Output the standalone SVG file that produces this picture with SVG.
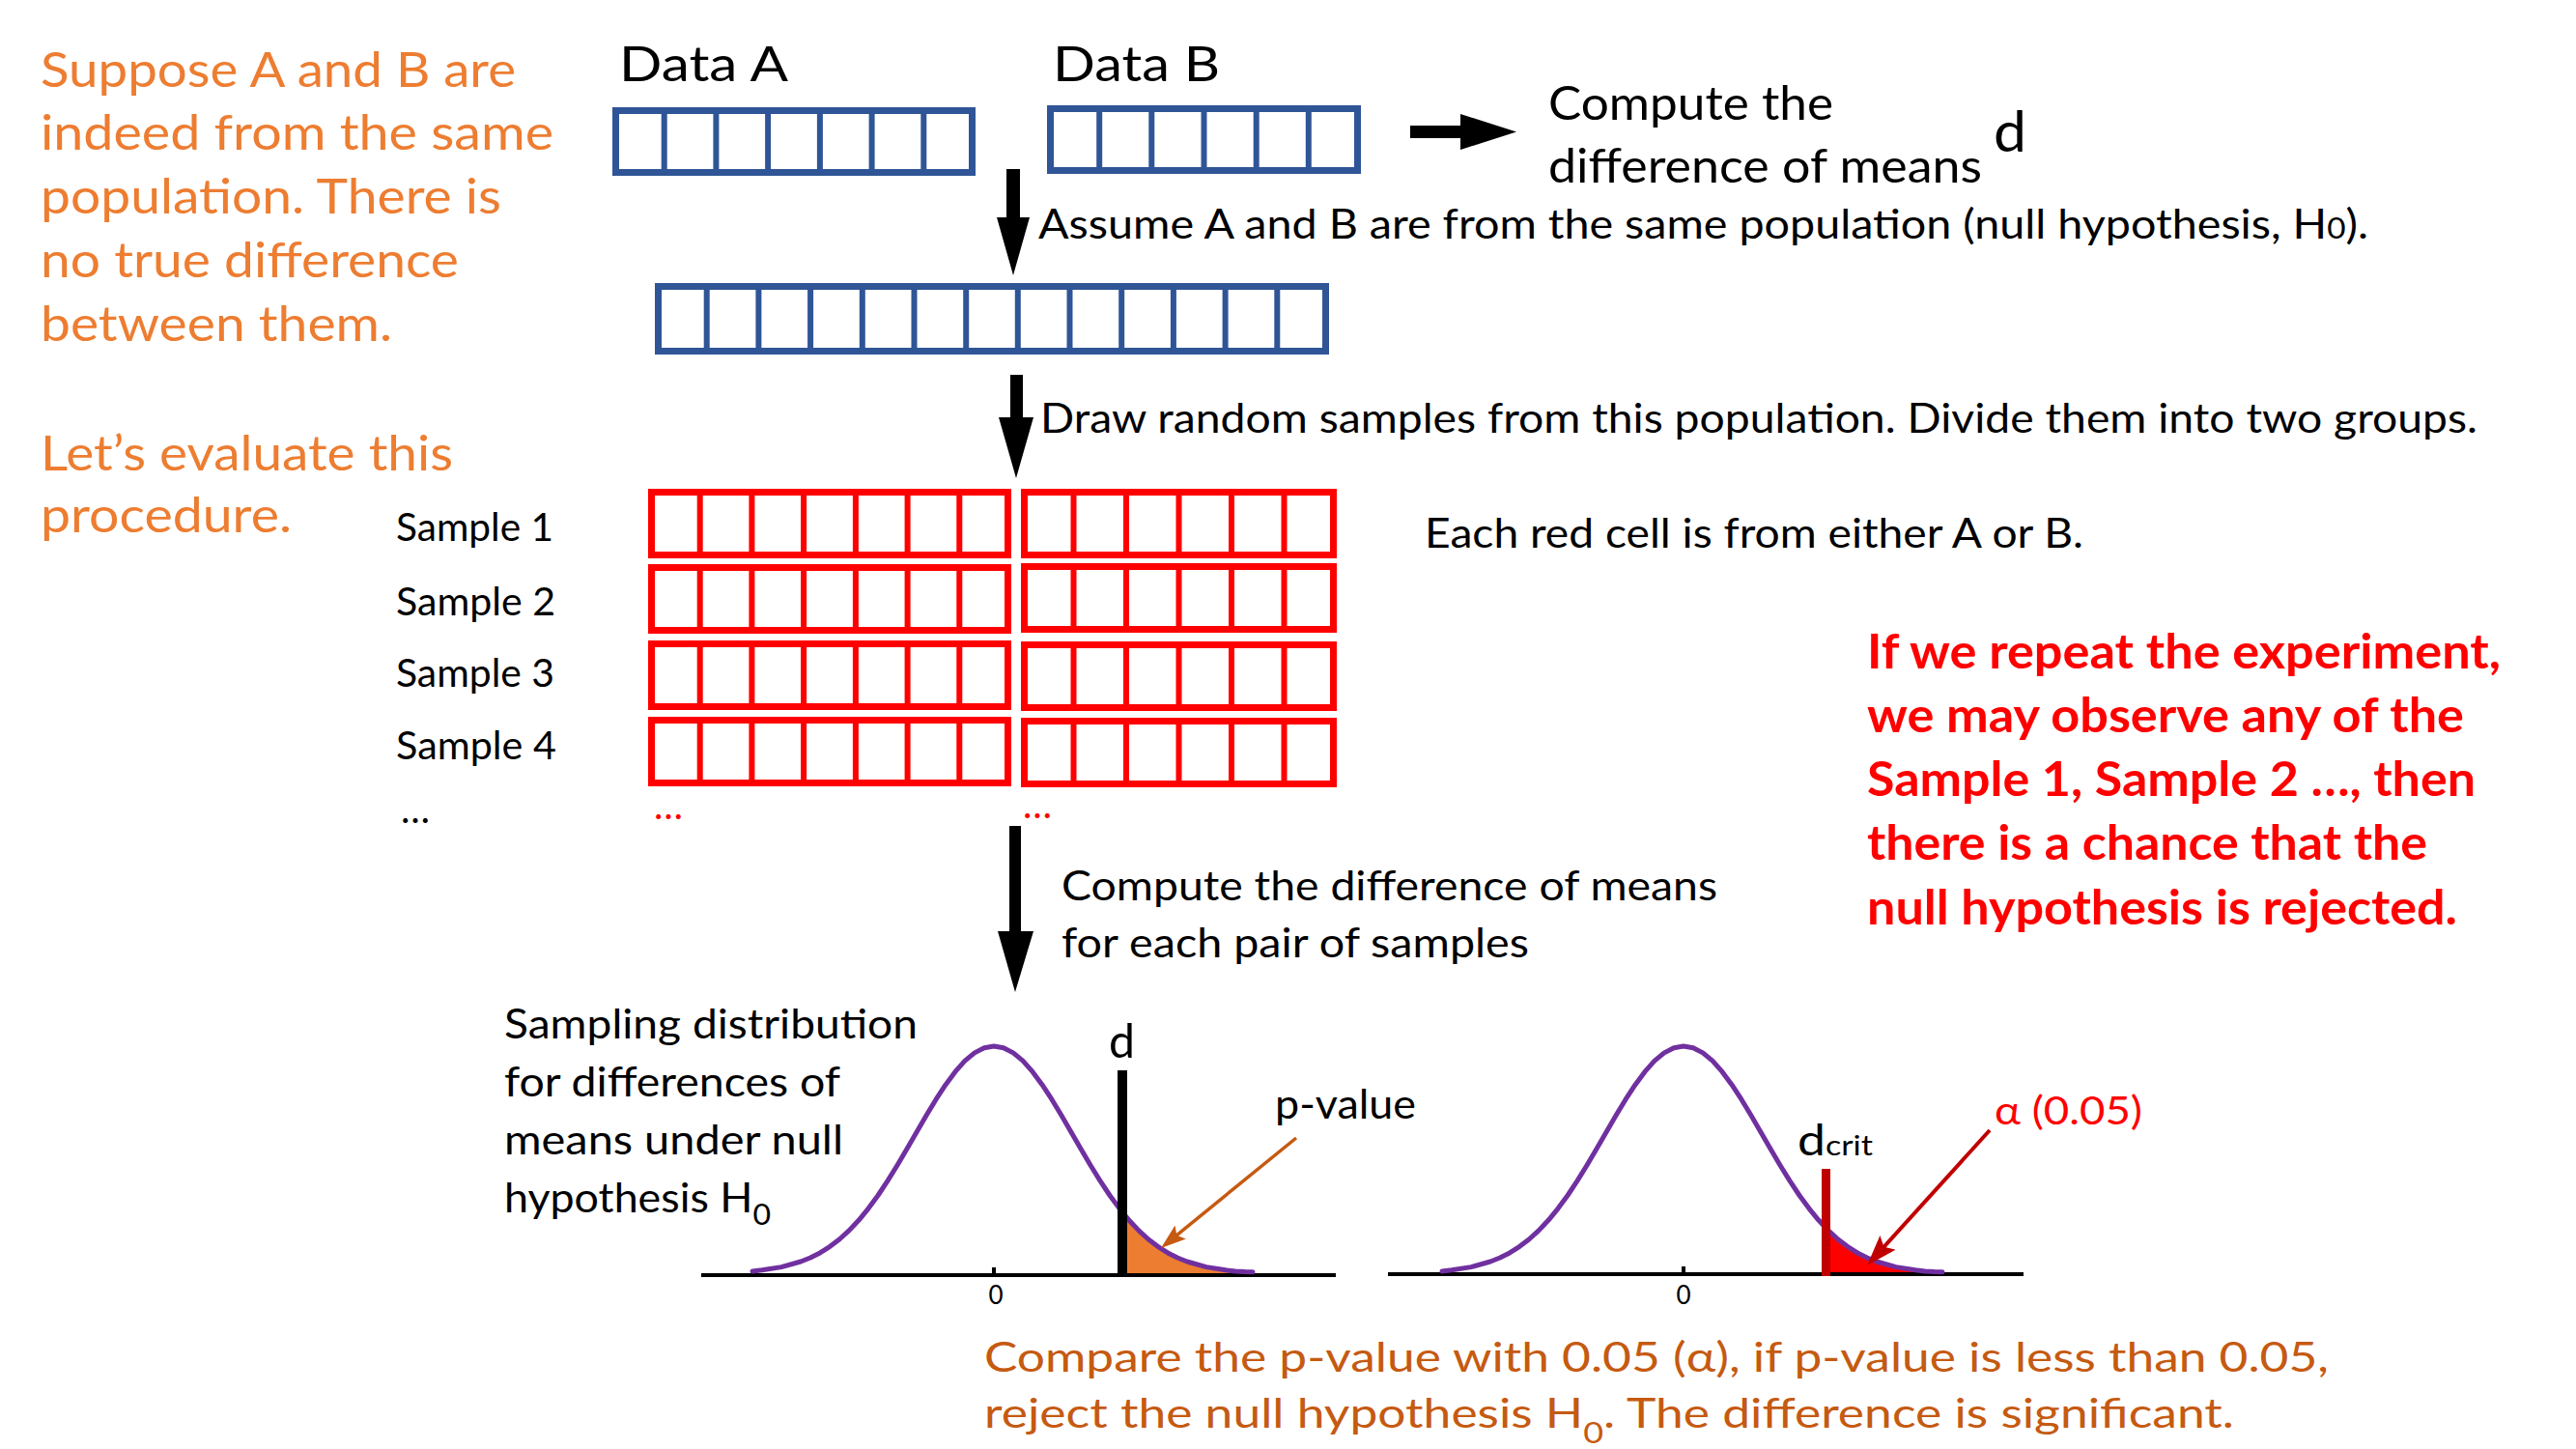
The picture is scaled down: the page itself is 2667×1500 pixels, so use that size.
<svg xmlns="http://www.w3.org/2000/svg" width="2667" height="1500" viewBox="0 0 2667 1500">
<style>
.t{font-family:Lato,'Open Sans','DejaVu Sans',sans-serif;fill:#000}
.or{fill:#ED7D31;font-size:50px}
.dor{fill:#C55A11;font-size:43px}
.rd{fill:#FF0000;font-size:49px;font-weight:bold}
.m{font-size:42px}
.bo{fill:none;stroke:#2F5597;stroke-width:7}
.bd{fill:none;stroke:#2F5597;stroke-width:6}
.ro{fill:none;stroke:#FF0000;stroke-width:7}
.rdv{fill:none;stroke:#FF0000;stroke-width:6}
.arr{fill:#000}
.curve{fill:none;stroke:#7030A0;stroke-width:5;stroke-linejoin:round;stroke-linecap:round}
.axis{stroke:#000;stroke-width:4}
</style>
<defs>
<path id="bell" d="M-250,1315.9 L-240,1314.8 L-220,1311.6 L-200,1306 L-190,1302 L-180,1296.9 L-170,1290.6 L-160,1283 L-150,1273.9 L-140,1263.3 L-130,1251.1 L-120,1237.5 L-110,1222.4 L-100,1206.3 L-90,1189.3 L-80,1172 L-70,1154.8 L-60,1138.2 L-50,1122.9 L-40,1109.4 L-30,1098.2 L-20,1089.9 L-10,1084.7 L0,1083 L10,1084.7 L20,1089.9 L30,1098.2 L40,1109.4 L50,1122.9 L60,1138.2 L70,1154.8 L80,1172 L90,1189.3 L100,1206.3 L110,1222.4 L120,1237.5 L130,1251.1 L140,1263.3 L150,1273.9 L160,1283 L170,1290.6 L180,1296.9 L190,1302 L200,1306 L220,1311.6 L240,1314.8 L250,1315.9 L260,1316.5 L268,1316.8"/>
<marker id="hOr" markerUnits="userSpaceOnUse" markerWidth="30" markerHeight="24" refX="21" refY="9" orient="auto"><path d="M0,0 L26,9 L0,18 L5,9 z" fill="#C55A11"/></marker>
<marker id="hRd" markerUnits="userSpaceOnUse" markerWidth="36" markerHeight="28" refX="27" refY="11" orient="auto"><path d="M0,0 L32,11 L0,22 L6,11 z" fill="#C00000"/></marker>
</defs>

<g id="intro-text">
<text class="t or" x="42" y="90" textLength="492" lengthAdjust="spacingAndGlyphs">Suppose A and B are</text>
<text class="t or" x="42" y="155" textLength="531" lengthAdjust="spacingAndGlyphs">indeed from the same</text>
<text class="t or" x="42" y="221" textLength="477" lengthAdjust="spacingAndGlyphs">population. There is</text>
<text class="t or" x="42" y="287" textLength="433" lengthAdjust="spacingAndGlyphs">no true difference</text>
<text class="t or" x="42" y="353" textLength="364" lengthAdjust="spacingAndGlyphs">between them.</text>
<text class="t or" x="42" y="487" textLength="427" lengthAdjust="spacingAndGlyphs">Let’s evaluate this</text>
<text class="t or" x="42" y="551" textLength="260" lengthAdjust="spacingAndGlyphs">procedure.</text>
</g>

<g id="data-a">
<text class="t" x="641" y="84" font-size="50" textLength="175" lengthAdjust="spacingAndGlyphs">Data A</text>
<rect class="bo" x="637.5" y="114.5" width="369" height="64"/>
<path class="bd" d="M687.7,114V179M741.4,114V179M795.1,114V179M848.9,114V179M902.6,114V179M956.3,114V179"/>
</g>

<g id="data-b">
<text class="t" x="1090" y="84" font-size="50" textLength="173" lengthAdjust="spacingAndGlyphs">Data B</text>
<rect class="bo" x="1087.5" y="112.5" width="318" height="64"/>
<path class="bd" d="M1138.2,112V177M1192.3,112V177M1246.5,112V177M1300.7,112V177M1354.8,112V177"/>
</g>

<g id="compute-d">
<text class="t" x="1603" y="124" font-size="48" textLength="295" lengthAdjust="spacingAndGlyphs">Compute the</text>
<text class="t" x="1603" y="189" font-size="48" textLength="449" lengthAdjust="spacingAndGlyphs">difference of means</text>
<text class="t" x="2064" y="157" font-size="58" textLength="34" lengthAdjust="spacingAndGlyphs">d</text>
</g>

<g id="population">
<rect class="bo" x="681.5" y="296.5" width="691" height="67"/>
<path class="bd" d="M731.7,296V364M785.4,296V364M839.1,296V364M892.8,296V364M946.5,296V364M1000.2,296V364M1053.8,296V364M1107.5,296V364M1161.2,296V364M1214.9,296V364M1268.6,296V364M1322.3,296V364"/>
</g>

<g id="step-labels">
<text class="t m" x="1075" y="247" textLength="1377" lengthAdjust="spacingAndGlyphs">Assume A and B are from the same population (null hypothesis, H<tspan font-size="30">0</tspan>).</text>
<text class="t m" x="1077" y="448" textLength="1488" lengthAdjust="spacingAndGlyphs">Draw random samples from this population. Divide them into two groups.</text>
<text class="t m" x="1475" y="567" textLength="682" lengthAdjust="spacingAndGlyphs">Each red cell is from either A or B.</text>
<text class="t m" x="1099" y="932" textLength="679" lengthAdjust="spacingAndGlyphs">Compute the difference of means</text>
<text class="t m" x="1099" y="991" textLength="484" lengthAdjust="spacingAndGlyphs">for each pair of samples</text>
</g>

<g id="samples">
<text class="t" x="410" y="560" font-size="40" textLength="163" lengthAdjust="spacingAndGlyphs">Sample 1</text>
<text class="t" x="410" y="637" font-size="40" textLength="165" lengthAdjust="spacingAndGlyphs">Sample 2</text>
<text class="t" x="410" y="711" font-size="40" textLength="164" lengthAdjust="spacingAndGlyphs">Sample 3</text>
<text class="t" x="410" y="786" font-size="40" textLength="166" lengthAdjust="spacingAndGlyphs">Sample 4</text>
<text class="t" x="415" y="852" font-size="40">…</text>
<text class="t" x="677" y="848" font-size="40" style="fill:#FF0000">…</text>
<text class="t" x="1059" y="847" font-size="40" style="fill:#FF0000">…</text>
<rect class="ro" x="674.5" y="509.5" width="369" height="65"/>
<path class="rdv" d="M724.7,509V575M778.4,509V575M832.1,509V575M885.9,509V575M939.6,509V575M993.3,509V575"/>
<rect class="ro" x="1060.5" y="509.5" width="320" height="65"/>
<path class="rdv" d="M1111.5,509V575M1166,509V575M1220.5,509V575M1275,509V575M1329.5,509V575"/>
<rect class="ro" x="674.5" y="587.5" width="369" height="65"/>
<path class="rdv" d="M724.7,587V653M778.4,587V653M832.1,587V653M885.9,587V653M939.6,587V653M993.3,587V653"/>
<rect class="ro" x="1060.5" y="586.5" width="320" height="65"/>
<path class="rdv" d="M1111.5,586V652M1166,586V652M1220.5,586V652M1275,586V652M1329.5,586V652"/>
<rect class="ro" x="674.5" y="666.5" width="369" height="65"/>
<path class="rdv" d="M724.7,666V732M778.4,666V732M832.1,666V732M885.9,666V732M939.6,666V732M993.3,666V732"/>
<rect class="ro" x="1060.5" y="667.5" width="320" height="65"/>
<path class="rdv" d="M1111.5,667V733M1166,667V733M1220.5,667V733M1275,667V733M1329.5,667V733"/>
<rect class="ro" x="674.5" y="745.5" width="369" height="65"/>
<path class="rdv" d="M724.7,745V811M778.4,745V811M832.1,745V811M885.9,745V811M939.6,745V811M993.3,745V811"/>
<rect class="ro" x="1060.5" y="746.5" width="320" height="65"/>
<path class="rdv" d="M1111.5,746V812M1166,746V812M1220.5,746V812M1275,746V812M1329.5,746V812"/>
</g>

<g id="repeat-note">
<text class="t rd" x="1933" y="692" textLength="656" lengthAdjust="spacingAndGlyphs">If we repeat the experiment,</text>
<text class="t rd" x="1933" y="758" textLength="618" lengthAdjust="spacingAndGlyphs">we may observe any of the</text>
<text class="t rd" x="1933" y="824" textLength="630" lengthAdjust="spacingAndGlyphs">Sample 1, Sample 2 …, then</text>
<text class="t rd" x="1933" y="890" textLength="580" lengthAdjust="spacingAndGlyphs">there is a chance that the</text>
<text class="t rd" x="1933" y="957" textLength="611" lengthAdjust="spacingAndGlyphs">null hypothesis is rejected.</text>
</g>

<g id="dist-observed">
<text class="t m" x="522" y="1075" textLength="428" lengthAdjust="spacingAndGlyphs">Sampling distribution</text>
<text class="t m" x="522" y="1135" textLength="348" lengthAdjust="spacingAndGlyphs">for differences of</text>
<text class="t m" x="522" y="1195" textLength="351" lengthAdjust="spacingAndGlyphs">means under null</text>
<text class="t m" x="522" y="1255" textLength="276" lengthAdjust="spacingAndGlyphs">hypothesis H<tspan font-size="30" dy="13">0</tspan></text>
<path d="M1167,1318 L1167,1264.5 L1169,1263.3 L1179,1273.9 L1189,1283 L1199,1290.6 L1209,1296.9 L1219,1302 L1229,1306 L1249,1311.6 L1269,1314.8 L1279,1315.9 L1289,1316.5 L1297,1316.8 L1297,1318 Z" fill="#ED7D31"/>
<line class="axis" x1="726" y1="1320" x2="1383" y2="1320"/>
<rect x="1027" y="1312" width="4" height="8" fill="#000"/>
<use href="#bell" transform="translate(1029,0)" class="curve"/>
<rect x="1157" y="1108" width="10" height="214" fill="#000"/>
<text class="t" x="1148" y="1095" font-size="48" textLength="27" lengthAdjust="spacingAndGlyphs">d</text>
<text class="t" x="1031" y="1350" font-size="26" text-anchor="middle">0</text>
<text class="t m" x="1320" y="1158" textLength="146" lengthAdjust="spacingAndGlyphs">p-value</text>
</g>

<g id="dist-critical">
<path d="M1895,1318 L1895,1277.5 L1903,1283 L1913,1290.6 L1923,1296.9 L1933,1302 L1943,1306 L1963,1311.6 L1983,1314.8 L1993,1315.9 L2003,1316.5 L2011,1316.8 L2011,1318 Z" fill="#FF0000"/>
<line class="axis" x1="1437" y1="1319" x2="2095" y2="1319"/>
<rect x="1741" y="1311" width="4" height="8" fill="#000"/>
<use href="#bell" transform="translate(1743,0)" class="curve"/>
<rect x="1886" y="1210" width="9" height="111" fill="#C00000"/>
<text class="t" x="1861" y="1196" font-size="44" textLength="78" lengthAdjust="spacingAndGlyphs">d<tspan font-size="29">crit</tspan></text>
<text class="t" x="1743" y="1350" font-size="26" text-anchor="middle">0</text>
<text class="t" x="2065" y="1164" font-size="41" style="fill:#FF0000" textLength="153" lengthAdjust="spacingAndGlyphs">α (0.05)</text>
</g>

<g id="conclusion">
<text class="t dor" x="1019" y="1420" textLength="1392" lengthAdjust="spacingAndGlyphs">Compare the p-value with 0.05 (α), if p-value is less than 0.05,</text>
<text class="t dor" x="1019" y="1478" textLength="1294" lengthAdjust="spacingAndGlyphs">reject the null hypothesis H<tspan font-size="30" dy="16">0</tspan><tspan dy="-16">. The difference is significant.</tspan></text>
</g>

<g id="connectors">
<path class="arr" d="M1460,130 H1512 V118 L1570,136.5 L1512,155 V143 H1460 Z"/>
<path class="arr" d="M1042,175 H1056 V225 H1066 L1049,285 L1032,225 H1042 Z"/>
<path class="arr" d="M1046,388 H1059 V432 H1070 L1052,495 L1034,432 H1046 Z"/>
<path class="arr" d="M1045,855 H1057 V964 H1070 L1051,1027 L1033,964 H1045 Z"/>
<line x1="1342" y1="1178" x2="1205.9" y2="1288.8" stroke="#C55A11" stroke-width="3.5" marker-end="url(#hOr)"/>
<line x1="2060" y1="1170" x2="1936.4" y2="1306.3" stroke="#C00000" stroke-width="4" marker-end="url(#hRd)"/>
</g>
</svg>
